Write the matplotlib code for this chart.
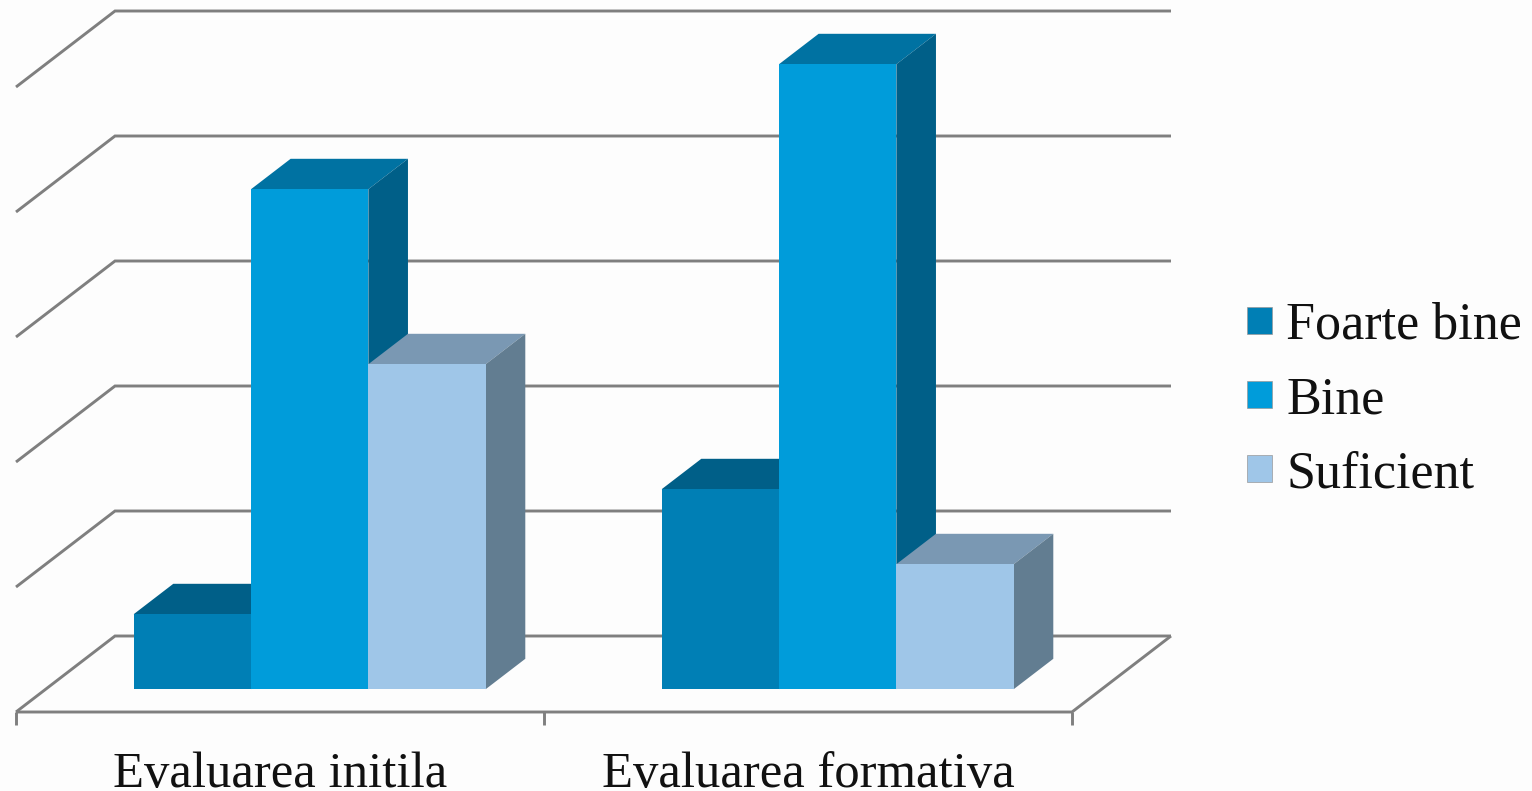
import numpy as np
import matplotlib.pyplot as plt
from matplotlib.patches import Patch

categories = ['Evaluarea initila', 'Evaluarea formativa']
series = ['Foarte bine', 'Bine', 'Suficient']
foarte_bine = [3, 8]
bine = [20, 25]
suficient = [13, 5]
grid_values = [0, 5, 10, 15, 20, 25]

front = ['#007FB5', '#009CDA', '#9FC6E8']
top = ['#005F88', '#0072A2', '#7A98B3']
side = ['#005F88', '#005F88', '#627D91']
bg = '#FDFDFD'
grey = '#7F7F7F'

W, H = 1532, 791
unit_x = 528.0   # pixel per category
unit_y = 25.0    # pixel per value
depth_x = 99 / unit_x   # floor depth in data units
depth_y = 76 / unit_y
bar_w = 1 / 4.5  # gap width 150%

fig = plt.figure(figsize=(W / 100, H / 100), dpi=100, facecolor=bg)
ax = fig.add_axes([0, 0, 1, 1])
ax.set_xlim(-16 / unit_x, (W - 16) / unit_x)
ax.set_ylim((712 - H) / unit_y, 712 / unit_y)
ax.axis('off')


def pt(x, v, d=0.0):
    # oblique projection, d=0 is the front of the floor and d=1 the back wall
    return x + d * depth_x, v + d * depth_y


n = len(categories)
# walls and floor
for v in grid_values:
    xs, ys = zip(pt(0, v), pt(0, v, 1), pt(n, v, 1))
    ax.plot(xs, ys, color=grey, lw=2.1, solid_joinstyle='miter', solid_capstyle='butt')
ax.plot(*zip(pt(0, 0), pt(n, 0), pt(n, 0, 1)), color=grey, lw=2.1, solid_capstyle='butt')
for i in range(n + 1):
    ax.plot([i, i], [0, -13 / unit_y], color=grey, lw=2.1, solid_capstyle='butt')

# bars, left to right so each one overlaps the previous side face
d0, d1 = 0.3, 0.7
for g in range(n):
    for s, vals in enumerate([foarte_bine, bine, suficient]):
        v = vals[g]
        x0 = g + 0.5 - 1.5 * bar_w + s * bar_w
        x1 = x0 + bar_w
        faces = [
            ([pt(x0, v, d0), pt(x0, v, d1), pt(x1, v, d1), pt(x1, v, d0)], top[s]),
            ([pt(x1, 0, d0), pt(x1, 0, d1), pt(x1, v, d1), pt(x1, v, d0)], side[s]),
            ([pt(x0, 0, d0), pt(x1, 0, d0), pt(x1, v, d0), pt(x0, v, d0)], front[s]),
        ]
        for poly, col in faces:
            ax.fill(*zip(*poly), color=col, lw=0, zorder=3)

for i, c in enumerate(categories):
    ax.text(i + 0.5, (712 - 787) / unit_y, c, ha='center', va='baseline',
            family='Liberation Serif', fontsize=36.5, color='#111111')

handles = [Patch(facecolor=c, edgecolor='#999999', lw=0.5) for c in front]
ax.legend(handles, series, loc='center left', bbox_to_anchor=(1247 / W, 1 - 400 / H),
          frameon=False, prop={'family': 'Liberation Serif', 'size': 37.5},
          handlelength=0.48, handleheight=0.42, handletextpad=0.27,
          labelspacing=0.5, labelcolor='#111111', borderpad=0, borderaxespad=0)

plt.savefig('out.png', dpi=100, facecolor=bg)
